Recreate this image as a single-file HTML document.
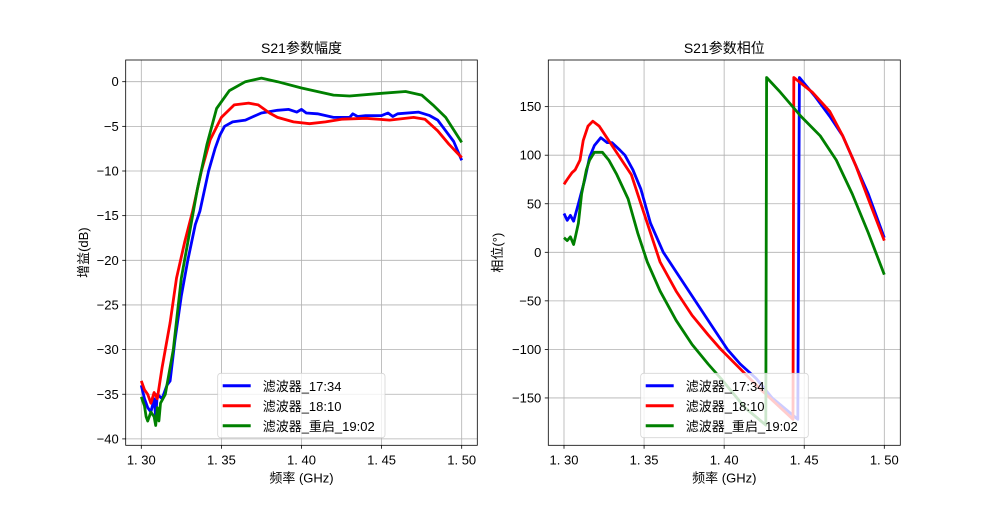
<!DOCTYPE html>
<html><head><meta charset="utf-8"><style>
html,body{margin:0;padding:0;background:#fff;}
svg text{font-family:"WenQuanYi Zen Hei","Liberation Sans",sans-serif;}
</style></head><body>
<svg id="s" width="1000" height="500" xmlns="http://www.w3.org/2000/svg"></svg>
<script>
const NS="http://www.w3.org/2000/svg";const S=document.getElementById('s');
function el(t,a,txt){const e=document.createElementNS(NS,t);for(const k in a)e.setAttribute(k,a[k]);if(txt!==undefined)e.textContent=txt;S.appendChild(e);return e;}
function axes(cfg){
 const {x0,x1,y0,y1,X,Y,yt,title,ylab}=cfg;
 el('rect',{x:x0,y:y0,width:x1-x0,height:y1-y0,fill:'#fff'});
 [1.30,1.35,1.40,1.45,1.50].forEach(f=>{const x=X(f);el('line',{x1:x,x2:x,y1:y0,y2:y1,stroke:'#b0b0b0','stroke-width':0.8});
  el('line',{x1:x,x2:x,y1:y1,y2:y1+3.5,stroke:'#000','stroke-width':0.8});
  el('text',{x:x,y:y1+19,'font-size':13,'text-anchor':'middle'},f.toFixed(2).replace('.','. '));});
 yt.forEach(v=>{const y=Y(v);el('line',{x1:x0,x2:x1,y1:y,y2:y,stroke:'#b0b0b0','stroke-width':0.8});
  el('line',{x1:x0-3.5,x2:x0,y1:y,y2:y,stroke:'#000','stroke-width':0.8});
  el('text',{x:x0-7,y:y+4.5,'font-size':13,'text-anchor':'end'},(v<0?'\u2212'+(-v):''+v));});
 el('text',{x:(x0+x1)/2,y:y0-7,'font-size':14,'text-anchor':'middle'},title);
 el('text',{x:(x0+x1)/2,y:y1+37,'font-size':13,'text-anchor':'middle'},'频率 (GHz)');
 const yl=el('text',{x:0,y:0,'font-size':13,'text-anchor':'middle',transform:`translate(${cfg.ylx},${(y0+y1)/2}) rotate(-90)`},ylab);
}
function line(pts,X,Y,c){el('polyline',{points:pts.map(p=>X(p[0]).toFixed(1)+','+Y(p[1]).toFixed(1)).join(' '),fill:'none',stroke:c,'stroke-width':2.8,'stroke-linejoin':'round'});}
function legend(x,y,w,h){
 el('rect',{x:x,y:y,width:w,height:h,rx:3,fill:'#fff','fill-opacity':0.8,stroke:'#ccc','stroke-opacity':0.8,'stroke-width':0.8});
 const items=[['blue','滤波器_17:34'],['red','滤波器_18:10'],['green','滤波器_重启_19:02']];
 items.forEach((it,i)=>{const yy=y+12.5+i*20;el('line',{x1:x+5,x2:x+33,y1:yy,y2:yy,stroke:it[0],'stroke-width':3});
  el('text',{x:x+45,y:yy+5,'font-size':13},it[1]);});
}
// left
const LX=f=>141.3+(f-1.3)/0.2*320.4, LY=v=>81.7-v*8.93;
axes({x0:125.7,x1:477.3,y0:60,y1:445.3,X:LX,Y:LY,yt:[0,-5,-10,-15,-20,-25,-30,-35,-40],title:'S21参数幅度',ylab:'增益(dB)',ylx:88});
line([[1.30,-34],[1.302,-35.5],[1.304,-36.5],[1.306,-37],[1.308,-35.5],[1.309,-37.5],[1.310,-35],[1.313,-35.5],[1.316,-34],[1.318,-33.5],[1.321,-29],[1.325,-24],[1.329,-20],[1.3337,-16],[1.3366,-14.5],[1.342,-10],[1.346,-7.5],[1.349,-6],[1.352,-5],[1.357,-4.5],[1.365,-4.3],[1.37,-3.9],[1.375,-3.5],[1.385,-3.2],[1.392,-3.1],[1.397,-3.4],[1.40,-3.1],[1.403,-3.5],[1.41,-3.6],[1.42,-4.0],[1.43,-4.0],[1.432,-3.6],[1.435,-3.9],[1.44,-3.8],[1.45,-3.8],[1.454,-3.5],[1.457,-3.9],[1.46,-3.6],[1.473,-3.4],[1.48,-3.8],[1.485,-4.3],[1.49,-5.5],[1.495,-6.7],[1.50,-8.8]],LX,LY,'blue');
line([[1.30,-33.5],[1.302,-34.5],[1.304,-35],[1.306,-36],[1.308,-34.8],[1.310,-35.5],[1.313,-32],[1.318,-27],[1.322,-22],[1.327,-18],[1.332,-14.5],[1.3375,-10],[1.343,-6.5],[1.35,-4],[1.358,-2.6],[1.367,-2.4],[1.373,-2.6],[1.38,-3.5],[1.385,-4],[1.395,-4.5],[1.405,-4.7],[1.415,-4.5],[1.425,-4.2],[1.44,-4.1],[1.455,-4.3],[1.47,-4.0],[1.477,-4.2],[1.485,-5.5],[1.492,-7],[1.50,-8.5]],LX,LY,'red');
line([[1.30,-35.3],[1.302,-36.3],[1.303,-37.5],[1.304,-38],[1.306,-37],[1.308,-37.5],[1.309,-38.5],[1.310,-36.5],[1.311,-38],[1.312,-36],[1.315,-35],[1.32,-30],[1.325,-22],[1.33,-17],[1.335,-12],[1.341,-7],[1.347,-3],[1.355,-1],[1.365,0],[1.375,0.4],[1.385,0],[1.4,-0.7],[1.42,-1.5],[1.43,-1.6],[1.45,-1.3],[1.465,-1.1],[1.475,-1.5],[1.482,-2.6],[1.49,-4],[1.50,-6.8]],LX,LY,'green');
legend(217.7,373.3,167.3,64.4);
// right
const RX=f=>564+(f-1.3)*1601.5, RY=p=>252.3-p*0.971;
axes({x0:548.3,x1:900.3,y0:60,y1:445.3,X:RX,Y:RY,yt:[150,100,50,0,-50,-100,-150],title:'S21参数相位',ylab:'相位(°)',ylx:502});
line([[1.30,40],[1.302,33],[1.304,38],[1.306,32],[1.309,50],[1.313,75],[1.316,98],[1.319,110],[1.323,118],[1.327,113],[1.33,113],[1.335,105],[1.338,100],[1.343,85],[1.348,65],[1.354,30],[1.362,0],[1.372,-25],[1.382,-50],[1.392,-75],[1.402,-100],[1.41,-115],[1.42,-130],[1.43,-150],[1.446,-172],[1.447,180],[1.457,160],[1.466,140],[1.474,120],[1.482,90],[1.49,60],[1.50,15]],RX,RY,'blue');
line([[1.30,70],[1.302,75],[1.305,82],[1.307,85],[1.31,95],[1.312,115],[1.315,130],[1.318,135],[1.322,130],[1.326,120],[1.33,110],[1.336,95],[1.342,80],[1.348,50],[1.354,20],[1.36,-10],[1.37,-40],[1.38,-65],[1.39,-85],[1.398,-100],[1.41,-120],[1.422,-140],[1.443,-172],[1.4435,180],[1.455,165],[1.466,145],[1.474,120],[1.482,90],[1.49,55],[1.50,12]],RX,RY,'red');
line([[1.30,15],[1.302,12],[1.304,16],[1.306,8],[1.307,15],[1.309,30],[1.311,60],[1.314,85],[1.316,95],[1.319,103],[1.324,103],[1.328,95],[1.333,80],[1.34,55],[1.346,20],[1.352,-10],[1.36,-40],[1.37,-70],[1.38,-95],[1.39,-115],[1.398,-130],[1.413,-160],[1.426,-178],[1.4265,180],[1.435,165],[1.448,140],[1.46,120],[1.47,95],[1.48,60],[1.49,20],[1.50,-23]],RX,RY,'green');
legend(640.7,373.3,167.6,64.4);
// frames on top
[[125.7,477.3],[548.3,900.3]].forEach(a=>el('rect',{x:a[0],y:60,width:a[1]-a[0],height:385.3,fill:'none',stroke:'#000','stroke-width':0.8}));
</script>
</body></html>
